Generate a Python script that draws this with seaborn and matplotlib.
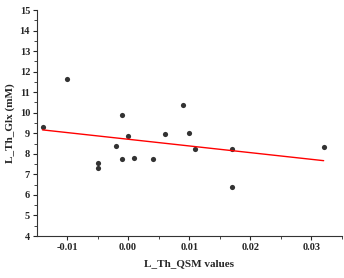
import matplotlib
matplotlib.use("Agg")
import matplotlib.pyplot as plt
import seaborn as sns
import pandas as pd
from matplotlib.ticker import MultipleLocator

qsm = [-0.0140, -0.0100, -0.0049, -0.0049, -0.0020, -0.0010, -0.0010, 0.0000,
       0.0010, 0.0040, 0.0060, 0.0090, 0.0100, 0.0110, 0.0170, 0.0170, 0.0320]
glx = [9.29, 11.65, 7.55, 7.33, 8.40, 9.88, 7.77, 8.85,
       7.80, 7.75, 8.98, 10.37, 9.01, 8.23, 8.25, 6.37, 8.32]

df = pd.DataFrame({"x": qsm, "y": glx})

sns.set_style("ticks")
plt.rcParams['font.family'] = ['Liberation Serif', 'DejaVu Serif']
plt.rcParams['font.weight'] = 'bold'

fig = plt.figure(figsize=(3.44, 2.78), dpi=100)
ax = fig.add_axes([37/344, 42/278, 305/344, 226/278])

sns.regplot(data=df, x="x", y="y", ax=ax, ci=None,
            scatter_kws=dict(color="black", s=14, linewidths=0),
            line_kws=dict(color="red", linewidth=1.0))

ax.set_xlim(-0.0149, 0.035)
ax.set_ylim(4, 15)
ax.xaxis.set_major_locator(MultipleLocator(0.01))
ax.xaxis.set_minor_locator(MultipleLocator(0.005))
ax.yaxis.set_major_locator(MultipleLocator(1))
ax.yaxis.set_minor_locator(MultipleLocator(0.5))
ax.set_xticklabels([])
ticks = [-0.01, 0.0, 0.01, 0.02, 0.03]
ax.set_xticks(ticks)
ax.set_xticklabels([f"{t:.2f}" for t in ticks], fontsize=7.5, fontweight='bold')
ax.set_yticks(range(4, 16))
ax.set_yticklabels([str(v) for v in range(4, 16)], fontsize=7.5, fontweight='bold')
ax.tick_params(which='major', length=3, width=0.8, direction='out', pad=2)
ax.tick_params(which='minor', length=2, width=0.6, direction='out')
for s in ["top", "right"]:
    ax.spines[s].set_visible(False)
for s in ["left", "bottom"]:
    ax.spines[s].set_linewidth(0.8)
    ax.spines[s].set_color("#333333")

ax.set_xlabel("L_Th_QSM values", fontsize=8, fontweight='bold', labelpad=5)
ax.set_ylabel("L_Th_Glx (mM)", fontsize=8, fontweight='bold', labelpad=3)

fig.savefig("out.png", dpi=100)
